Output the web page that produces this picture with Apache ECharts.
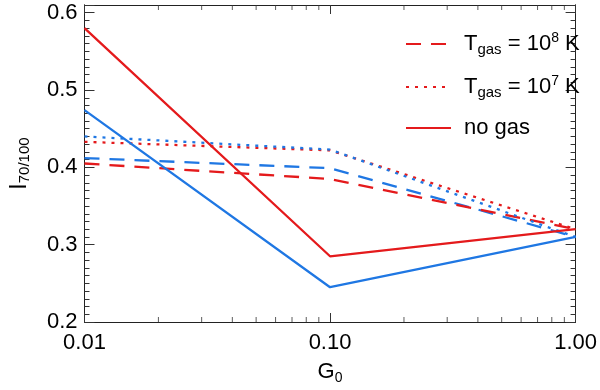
<!DOCTYPE html>
<html>
<head>
<meta charset="utf-8">
<script src="https://cdn.jsdelivr.net/npm/echarts@6/dist/echarts.min.js"></script>
<style>
  html, body { margin: 0; padding: 0; background: #fff; }
  #main { width: 600px; height: 390px; }
</style>
</head>
<body>
<div id="main"></div>
<script>
// G0 values (x)
var g0 = [0.01, 0.1, 1.0];

// I70/100 values
var red8 = [0.405, 0.385, 0.320];
var blue8 = [0.412, 0.399, 0.310];
var red7 = [0.433, 0.422, 0.320];
var blue7 = [0.440, 0.423, 0.310];
var redNoGas = [0.580, 0.285, 0.320];
var blueNoGas = [0.474, 0.245, 0.310];

// minor ticks on the log axis
var xMinorTicks = [0.02, 0.03, 0.04, 0.05, 0.06, 0.07, 0.08, 0.09,
                   0.2, 0.3, 0.4, 0.5, 0.6, 0.7, 0.8, 0.9];

var yMin = 0.2, yMax = 0.61;
var RED = '#e41a1c', BLUE = '#1f77e3';
var FONT = 'Liberation Sans';

function pairs(ys) {
  return g0.map(function (x, i) { return [x, ys[i]]; });
}

function lineSeries(name, ys, color, type) {
  return {
    name: name,
    type: 'line',
    data: pairs(ys),
    symbol: 'none',
    silent: true,
    lineStyle: { color: color, width: 2.3, type: type },
    itemStyle: { color: color }
  };
}

var legendText = {
  t8: '{m|T}{s|gas}{m| = 10}{p|8}{m| K}',
  t7: '{m|T}{s|gas}{m| = 10}{p|7}{m| K}',
  ng: '{m|no gas}'
};

function minorTickSeries(yv, off) {
  return {
    type: 'scatter',
    silent: true,
    clip: false,
    symbol: 'rect',
    symbolSize: [1, 5],
    symbolOffset: [0, off],
    itemStyle: { color: '#333' },
    data: xMinorTicks.map(function (x) { return [x, yv]; }),
    z: 1
  };
}

var myChart = echarts.init(document.getElementById('main'));

function yAx(pos, interval, len, labels) {
  return {
    type: 'value',
    position: pos,
    min: yMin,
    max: yMax,
    interval: interval,
    splitLine: { show: false },
    axisLine: { show: true, onZero: false, lineStyle: { color: '#222', width: 1 } },
    axisTick: { show: true, inside: true, length: len, lineStyle: { color: '#333' } },
    axisLabel: {
      show: labels,
      margin: 7,
      color: '#000',
      fontFamily: FONT,
      fontSize: 22,
      formatter: function (v) {
        var r = Math.round(v * 10) / 10;
        return Math.abs(r - v) < 1e-6 ? r.toFixed(1) : '';
      }
    }
  };
}

var option = {
  animation: false,
  grid: { left: 72, right: 22, top: 5, bottom: 57 },
  legend: {
    data: ['t8', 't7', 'ng'],
    orient: 'vertical',
    left: 400,
    top: 26,
    itemWidth: 45,
    itemHeight: 14,
    itemGap: 17,
    selectedMode: false,
    itemStyle: { opacity: 0 },
    formatter: function (name) { return legendText[name]; },
    textStyle: {
      color: '#000',
      padding: [0, 0, 0, 8],
      rich: {
        m: { fontFamily: FONT, fontSize: 22, lineHeight: 26, color: '#000' },
        s: { fontFamily: FONT, fontSize: 15, lineHeight: 12, verticalAlign: 'bottom', color: '#000' },
        p: { fontFamily: FONT, fontSize: 14, lineHeight: 10, verticalAlign: 'top', color: '#000' }
      }
    }
  },
  xAxis: [
    {
      type: 'log',
      logBase: 10,
      min: 0.01,
      max: 1,
      position: 'bottom',
      name: '{g|G}{s|0}',
      nameLocation: 'middle',
      nameGap: 37,
      nameTextStyle: {
        rich: {
          g: { fontFamily: FONT, fontSize: 22, lineHeight: 26, color: '#000' },
          s: { fontFamily: FONT, fontSize: 14, lineHeight: 12, verticalAlign: 'bottom', color: '#000' }
        }
      },
      splitLine: { show: false },
      axisLine: { show: true, onZero: false, lineStyle: { color: '#222', width: 1 } },
      axisTick: { show: true, inside: true, length: 9, lineStyle: { color: '#333' } },
      axisLabel: {
        margin: 10,
        color: '#000',
        fontFamily: FONT,
        fontSize: 22,
        formatter: function (v) { return v.toFixed(2); }
      }
    },
    {
      type: 'log',
      logBase: 10,
      min: 0.01,
      max: 1,
      position: 'top',
      splitLine: { show: false },
      axisLine: { show: true, onZero: false, lineStyle: { color: '#222', width: 1 } },
      axisTick: { show: true, inside: true, length: 9, lineStyle: { color: '#333' } },
      axisLabel: { show: false }
    }
  ],
  yAxis: [
    Object.assign(yAx('left', 0.1, 10, true), {
      name: '{i|I}{s|70/100}',
      nameLocation: 'middle',
      nameRotate: 90,
      nameGap: 52,
      nameTextStyle: {
        rich: {
          i: { fontFamily: FONT, fontSize: 23, lineHeight: 26, color: '#000' },
          s: { fontFamily: FONT, fontSize: 15, lineHeight: 12, verticalAlign: 'bottom', color: '#000' }
        }
      }
    }),
    yAx('left', 0.01, 5, false),
    yAx('right', 0.1, 10, false),
    yAx('right', 0.01, 5, false)
  ],
  series: [
    lineSeries('t8b', blue8, BLUE, [15, 10]),
    lineSeries('t8', red8, RED, [15, 10]),
    lineSeries('t7', red7, RED, [3, 6]),
    lineSeries('t7b', blue7, BLUE, [3, 6]),
    lineSeries('ngb', blueNoGas, BLUE, 'solid'),
    lineSeries('ng', redNoGas, RED, 'solid'),
    minorTickSeries(yMin, -2.5),
    minorTickSeries(yMax, 2.5)
  ]
};

myChart.setOption(option);
</script>
</body>
</html>
